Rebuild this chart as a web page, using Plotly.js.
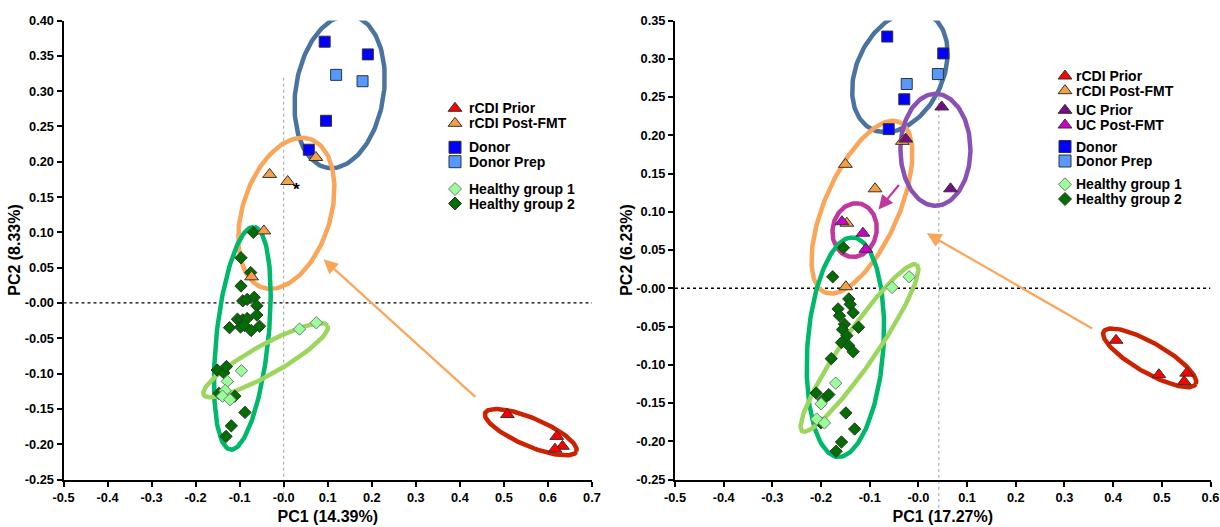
<!DOCTYPE html>
<html><head><meta charset="utf-8">
<script src="https://cdn.plot.ly/plotly-3.0.1.min.js"></script>
<style>html,body{margin:0;padding:0;background:#fff}#chart{width:1220px;height:527px}</style>
</head><body><div id="chart"></div>
<script>
// ================= DATA: left panel (rCDI) =================
const A_rcdiPrior_x = [0.508, 0.620, 0.633, 0.616];
const A_rcdiPrior_y = [-0.158, -0.189, -0.203, -0.207];
const A_rcdiPost_x = [0.073, -0.032, 0.009, -0.045, -0.073];
const A_rcdiPost_y = [0.206, 0.182, 0.172, 0.102, 0.037];
const A_donor_x = [0.093, 0.191, 0.096, 0.057];
const A_donor_y = [0.370, 0.352, 0.258, 0.217];
const A_donorPrep_x = [0.119, 0.179];
const A_donorPrep_y = [0.323, 0.314];
const A_hg1_x = [0.036, 0.074, -0.096, -0.128, -0.133, -0.139, -0.122];
const A_hg1_y = [-0.037, -0.028, -0.096, -0.111, -0.124, -0.132, -0.137];
const A_hg2_x = [-0.069, -0.097, -0.075, -0.097, -0.093, -0.083, -0.067, -0.061, -0.105, -0.093, -0.083, -0.061,
                 -0.123, -0.098, -0.089, -0.074, -0.055, -0.151, -0.136, -0.130, -0.147, -0.111, -0.088, -0.119, -0.131];
const A_hg2_y = [0.100, 0.064, 0.043, 0.024, 0.003, 0.005, 0.008, -0.004, -0.023, -0.024, -0.022, -0.017,
                 -0.035, -0.034, -0.032, -0.039, -0.033, -0.095, -0.099, -0.090, -0.128, -0.132, -0.155, -0.174, -0.189];

// ================= DATA: right panel (rCDI + UC) =================
const B_rcdiPrior_x = [0.406, 0.494, 0.551, 0.546];
const B_rcdiPrior_y = [-0.068, -0.113, -0.111, -0.122];
const B_rcdiPost_x = [-0.150, -0.089, -0.033, -0.147, -0.149];
const B_rcdiPost_y = [0.162, 0.130, 0.192, 0.085, 0.002];
const B_ucPrior_x = [0.048, -0.026, 0.066];
const B_ucPrior_y = [0.237, 0.195, 0.130];
const B_ucPost_x = [-0.157, -0.114, -0.108];
const B_ucPost_y = [0.087, 0.072, 0.051];
const B_donor_x = [-0.064, 0.051, -0.029, -0.061];
const B_donor_y = [0.329, 0.307, 0.247, 0.208];
const B_donorPrep_x = [-0.024, 0.040];
const B_donorPrep_y = [0.267, 0.280];
const B_hg1_x = [-0.054, -0.019, -0.170, -0.200, -0.209, -0.193];
const B_hg1_y = [0.001, 0.015, -0.124, -0.151, -0.171, -0.176];
const B_hg2_x = [-0.154, -0.176, -0.143, -0.140, -0.165, -0.162, -0.134, -0.152, -0.123, -0.156, -0.147, -0.158,
                 -0.143, -0.134, -0.179, -0.210, -0.184, -0.196, -0.149, -0.200, -0.131, -0.158, -0.169];
const B_hg2_y = [0.053, 0.015, -0.014, -0.021, -0.027, -0.036, -0.032, -0.047, -0.051, -0.054, -0.062, -0.071,
                 -0.075, -0.083, -0.092, -0.137, -0.139, -0.146, -0.163, -0.176, -0.184, -0.201, -0.213];

// ================= Tick labels / titles =================
const A_xTickVals = [-0.5,-0.4,-0.3,-0.2,-0.1,0,0.1,0.2,0.3,0.4,0.5,0.6,0.7];
const A_xTickText = ['-0.5','-0.4','-0.3','-0.2','-0.1','-0.0','0.1','0.2','0.3','0.4','0.5','0.6','0.7'];
const A_yTickVals = [0.40,0.35,0.30,0.25,0.20,0.15,0.10,0.05,0,-0.05,-0.10,-0.15,-0.20,-0.25];
const A_yTickText = ['0.40','0.35','0.30','0.25','0.20','0.15','0.10','0.05','-0.00','-0.05','-0.10','-0.15','-0.20','-0.25'];
const B_xTickVals = [-0.5,-0.4,-0.3,-0.2,-0.1,0,0.1,0.2,0.3,0.4,0.5,0.6];
const B_xTickText = ['-0.5','-0.4','-0.3','-0.2','-0.1','-0.0','0.1','0.2','0.3','0.4','0.5','0.6'];
const B_yTickVals = [0.35,0.30,0.25,0.20,0.15,0.10,0.05,0,-0.05,-0.10,-0.15,-0.20,-0.25];
const B_yTickText = ['0.35','0.30','0.25','0.20','0.15','0.10','0.05','-0.00','-0.05','-0.10','-0.15','-0.20','-0.25'];
const A_xTitle = 'PC1 (14.39%)', A_yTitle = 'PC2 (8.33%)';
const B_xTitle = 'PC1 (17.27%)', B_yTitle = 'PC2 (6.23%)';

// ================= Layout constants =================
const W = 1220, H = 527;
const FONT = 'Liberation Sans, Arial, Helvetica, sans-serif';
const A_xRange = [-0.5, 0.7], A_yRange = [-0.25, 0.40];
const B_xRange = [-0.5, 0.6], B_yRange = [-0.25, 0.35];
const A_xDom = [63.5/W, 592/W], B_xDom = [675/W, 1210.5/W];
const yDom = [1 - 479.5/H, 1 - 20.5/H];
const pxPer = (dom, rng, size) => (dom[1]-dom[0])*size/(rng[1]-rng[0]);
const A_pxX = pxPer(A_xDom, A_xRange, W), A_pxY = pxPer(yDom, A_yRange, H);
const B_pxX = pxPer(B_xDom, B_xRange, W), B_pxY = pxPer(yDom, B_yRange, H);
const toPaper = (v, dom, rng) => dom[0] + (v - rng[0])/(rng[1]-rng[0])*(dom[1]-dom[0]);

// ================= Styles =================
const STY = {
  'rCDI Prior':     {symbol:'triangle-up', color:'#FF0000', size:12, line:'#333333'},
  'rCDI Post-FMT':  {symbol:'triangle-up', color:'#F7A043', size:12, line:'#333333'},
  'UC Prior':       {symbol:'triangle-up', color:'#7A0A8C', size:12, line:'#333333'},
  'UC Post-FMT':    {symbol:'triangle-up', color:'#CC00CC', size:12, line:'#333333'},
  'Donor':          {symbol:'square', color:'#0000FF', size:11, line:'#333333'},
  'Donor Prep':     {symbol:'square', color:'#5599FF', size:11, line:'#333333'},
  'Healthy group 1':{symbol:'diamond', color:'#99FF99', size:9.5, line:'#777777'},
  'Healthy group 2':{symbol:'diamond', color:'#006E00', size:9.5, line:'#333333'}
};
function pts(name, x, y, xa, ya) {
  const s = STY[name];
  return {type:'scatter', mode:'markers', name, x, y, xaxis:xa, yaxis:ya, showlegend:false, hoverinfo:'name+x+y',
    marker:{symbol:s.symbol, color:s.color, size:s.size, line:{color:s.line, width:1}}};
}

// ellipses: center (data), semi-axes (px), angle (deg, screen with y up)
const A_ell = [
  {c:'#4B73A0', cx:0.127, cy:0.299, a:77, b:44, ang:80.9},
  {c:'#F9A65A', cx:0.006, cy:0.127, a:78, b:44, ang:72.5},
  {c:'#00B86B', cx:-0.094, cy:-0.050, a:112, b:26, ang:84},
  {c:'#9CD65F', cx:-0.041, cy:-0.081, a:71, b:15, ang:29.2},
  {c:'#CC2200', cx:0.561, cy:-0.183, a:49.5, b:14, ang:-23}
];
const B_ell = [
  {c:'#4B73A0', cx:-0.038, cy:0.283, a:64, b:43, ang:64},
  {c:'#F9A65A', cx:-0.116, cy:0.106, a:93, b:37, ang:66.3},
  {c:'#8A50B4', cx:0.035, cy:0.181, a:56, b:35, ang:90},
  {c:'#C2379E', cx:-0.131, cy:0.076, a:27, b:22, ang:80},
  {c:'#00B86B', cx:-0.150, cy:-0.077, a:110, b:38, ang:86},
  {c:'#9CD65F', cx:-0.121, cy:-0.078, a:101, b:17, ang:55.5},
  {c:'#CC2200', cx:0.475, cy:-0.091, a:53, b:15, ang:-29.8}
];
function ellTrace(e, pxX, pxY, xa, ya) {
  const xs=[], ys=[], phi=e.ang*Math.PI/180, N=160;
  for (let i=0;i<=N;i++){
    const t=2*Math.PI*i/N;
    const dx=e.a*Math.cos(t)*Math.cos(phi)-e.b*Math.sin(t)*Math.sin(phi);
    const dy=e.a*Math.cos(t)*Math.sin(phi)+e.b*Math.sin(t)*Math.cos(phi);
    xs.push(e.cx+dx/pxX); ys.push(e.cy+dy/pxY);
  }
  return {type:'scatter', mode:'lines', x:xs, y:ys, xaxis:xa, yaxis:ya, showlegend:false, hoverinfo:'skip',
          line:{color:e.c, width:4.5}};
}

const traces = [];
A_ell.forEach(e => traces.push(ellTrace(e, A_pxX, A_pxY, 'x', 'y')));
B_ell.forEach(e => traces.push(ellTrace(e, B_pxX, B_pxY, 'x2', 'y2')));
traces.push(pts('Healthy group 2', A_hg2_x, A_hg2_y, 'x', 'y'));
traces.push(pts('Healthy group 1', A_hg1_x, A_hg1_y, 'x', 'y'));
traces.push(pts('Donor', A_donor_x, A_donor_y, 'x', 'y'));
traces.push(pts('Donor Prep', A_donorPrep_x, A_donorPrep_y, 'x', 'y'));
traces.push(pts('rCDI Post-FMT', A_rcdiPost_x, A_rcdiPost_y, 'x', 'y'));
traces.push(pts('rCDI Prior', A_rcdiPrior_x, A_rcdiPrior_y, 'x', 'y'));
traces.push(pts('Healthy group 2', B_hg2_x, B_hg2_y, 'x2', 'y2'));
traces.push(pts('Healthy group 1', B_hg1_x, B_hg1_y, 'x2', 'y2'));
traces.push(pts('Donor', B_donor_x, B_donor_y, 'x2', 'y2'));
traces.push(pts('Donor Prep', B_donorPrep_x, B_donorPrep_y, 'x2', 'y2'));
traces.push(pts('rCDI Post-FMT', B_rcdiPost_x, B_rcdiPost_y, 'x2', 'y2'));
traces.push(pts('rCDI Prior', B_rcdiPrior_x, B_rcdiPrior_y, 'x2', 'y2'));
traces.push(pts('UC Prior', B_ucPrior_x, B_ucPrior_y, 'x2', 'y2'));
traces.push(pts('UC Post-FMT', B_ucPost_x, B_ucPost_y, 'x2', 'y2'));

// ===== custom legends (pixel layout on an invisible full-page axis) =====
const A_legNames = ['rCDI Prior','rCDI Post-FMT','Donor','Donor Prep','Healthy group 1','Healthy group 2'];
const A_legY = [108.3, 123.3, 147.3, 161.7, 189, 203.5];
const A_legMarkX = 455, A_legTextX = 468;
const B_legNames = ['rCDI Prior','rCDI Post-FMT','UC Prior','UC Post-FMT','Donor','Donor Prep','Healthy group 1','Healthy group 2'];
const B_legY = [76, 90.7, 110.3, 125, 146.5, 161, 184.3, 199];
const B_legMarkX = 1065, B_legTextX = 1075;
const annotations = [];
function addLegend(names, ys, mx, tx) {
  names.forEach((n, i) => {
    const s = STY[n];
    traces.push({type:'scatter', mode:'markers', x:[mx], y:[ys[i]], xaxis:'x3', yaxis:'y3', showlegend:false, hoverinfo:'skip',
      marker:{symbol:s.symbol, color:s.color, size:s.symbol==='diamond'?10:12, line:{color:s.line, width:1}}});
    annotations.push({xref:'paper', yref:'paper', x:tx/W, y:1-ys[i]/H, xanchor:'left', yanchor:'middle', showarrow:false,
      text:n, borderpad:0, font:{family:FONT, size:14, color:'#000', weight:'bold'}});
  });
}
addLegend(A_legNames, A_legY, A_legMarkX, A_legTextX);
addLegend(B_legNames, B_legY, B_legMarkX, B_legTextX);

// arrows
const arrowA = {head:[0.0905, 0.0618], tail:[0.4385, -0.135], color:'#F9A65A'};
const arrowB1 = {head:[0.0175, 0.0718], tail:[0.360, -0.0537], color:'#F9A65A'};
const arrowB2 = {head:[-0.082, 0.103], tail:[-0.0374, 0.137], color:'#C2379E'};
[[arrowA,'x','y'],[arrowB1,'x2','y2'],[arrowB2,'x2','y2']].forEach(([a,xr,yr]) => {
  annotations.push({xref:xr, yref:yr, axref:xr, ayref:yr, x:a.head[0], y:a.head[1], ax:a.tail[0], ay:a.tail[1],
    text:'', showarrow:true, arrowhead:2, arrowsize:1.3, arrowwidth:2.2, arrowcolor:a.color});
});
// asterisk marking one post-FMT sample
annotations.push({xref:'x', yref:'y', x:0.030, y:0.160, text:'*', showarrow:false, xanchor:'center', yanchor:'middle',
  font:{family:FONT, size:17, color:'#000', weight:'bold'}});

// reference lines
const shapes = [
  {type:'line', xref:'x', yref:'y', x0:A_xRange[0], x1:A_xRange[1], y0:0, y1:0, layer:'below', line:{color:'#000', width:1.3, dash:'dot'}},
  {type:'line', xref:'x2', yref:'y2', x0:B_xRange[0], x1:B_xRange[1], y0:0, y1:0, layer:'below', line:{color:'#000', width:1.3, dash:'dot'}},
  {type:'line', xref:'paper', yref:'paper', x0:toPaper(0, A_xDom, A_xRange), x1:toPaper(0, A_xDom, A_xRange),
    y0:toPaper(-0.28, yDom, A_yRange), y1:toPaper(0.321, yDom, A_yRange), layer:'below', line:{color:'#A0A0A0', width:1, dash:'dot'}},
  {type:'line', xref:'paper', yref:'paper', x0:toPaper(0.042, B_xDom, B_xRange), x1:toPaper(0.042, B_xDom, B_xRange),
    y0:toPaper(-0.295, yDom, B_yRange), y1:toPaper(0.285, yDom, B_yRange), layer:'below', line:{color:'#A0A0A0', width:1, dash:'dot'}}
];

const tickFont = {family:FONT, size:12.8, color:'#000', weight:'bold'};
const titleFont = {family:FONT, size:16, color:'#000', weight:'bold'};
const ax = {showline:true, linecolor:'#000', linewidth:2, ticks:'outside', ticklen:5, tickwidth:2, tickcolor:'#000',
  showgrid:false, zeroline:false, tickfont:tickFont, fixedrange:true, automargin:false, tickmode:'array'};

const layout = {
  width:W, height:H, margin:{l:0, r:0, t:0, b:0}, paper_bgcolor:'#fff', plot_bgcolor:'rgba(0,0,0,0)',
  showlegend:false, hovermode:'closest', font:{family:FONT},
  xaxis: {...ax, domain:A_xDom, range:A_xRange, tickvals:A_xTickVals, ticktext:A_xTickText, anchor:'y',
          title:{text:A_xTitle, font:titleFont, standoff:7}},
  yaxis: {...ax, domain:yDom, range:A_yRange, tickvals:A_yTickVals, ticktext:A_yTickText, anchor:'x',
          title:{text:A_yTitle, font:titleFont, standoff:0}},
  xaxis2:{...ax, domain:B_xDom, range:B_xRange, tickvals:B_xTickVals, ticktext:B_xTickText, anchor:'y2',
          title:{text:B_xTitle, font:titleFont, standoff:7}},
  yaxis2:{...ax, domain:yDom, range:B_yRange, tickvals:B_yTickVals, ticktext:B_yTickText, anchor:'x2',
          title:{text:B_yTitle, font:titleFont, standoff:0}},
  xaxis3:{domain:[0,1], range:[0,W], visible:false, fixedrange:true, anchor:'y3'},
  yaxis3:{domain:[0,1], range:[H,0], visible:false, fixedrange:true, anchor:'x3'},
  shapes, annotations
};
Plotly.newPlot('chart', traces, layout, {displayModeBar:false});
</script></body></html>
